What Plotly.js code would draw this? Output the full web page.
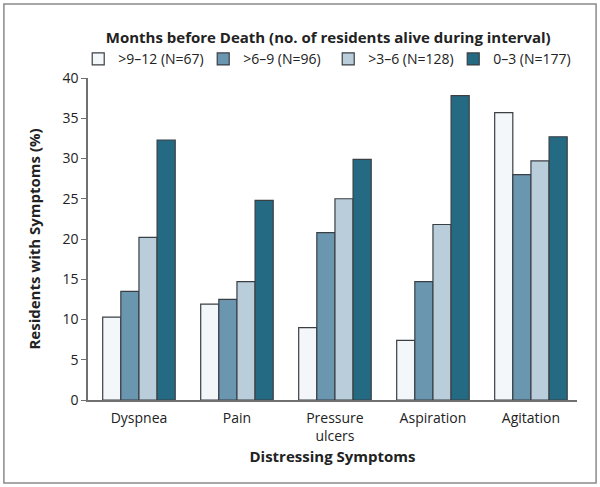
<!DOCTYPE html>
<html>
<head>
<meta charset="utf-8">
<script src="https://cdn.plot.ly/plotly-3.0.1.min.js"></script>
<style>body{margin:0;background:#fff}</style>
</head>
<body>
<div id="chart" style="width:600px;height:487px"></div>
<script>
var symptoms = ['Dyspnea', 'Pain', 'Pressure<br>ulcers', 'Aspiration', 'Agitation'];
var seriesNames = ['>9\u201312 (N=67)', '>6\u20139 (N=96)', '>3\u20136 (N=128)', '0\u20133 (N=177)'];
var m9to12 = [10.3, 11.9, 9.0, 7.4, 35.7];
var m6to9 = [13.5, 12.5, 20.8, 14.7, 28.0];
var m3to6 = [20.2, 14.7, 25.0, 21.8, 29.7];
var m0to3 = [32.3, 24.8, 29.9, 37.8, 32.7];
var colors = ['#f3f7f9', '#6a97af', '#b9cdda', '#256a83'];

var values = [m9to12, m6to9, m3to6, m0to3];
var data = values.map(function (v, i) {
  return {
    type: 'bar',
    name: seriesNames[i],
    x: symptoms,
    y: v,
    marker: {color: colors[i], line: {color: '#3a3f44', width: 1.2}},
    hoverinfo: 'y'
  };
});

var layout = {
  width: 600,
  height: 487,
  margin: {l: 88, r: 23, t: 78, b: 87, autoexpand: false},
  font: {family: 'Open Sans, sans-serif', size: 14, color: '#222'},
  barmode: 'group',
  bargap: 0.26,
  bargroupgap: 0,
  plot_bgcolor: '#fff',
  paper_bgcolor: '#fff',
  showlegend: true,
  legend: {
    orientation: 'h',
    x: -0.02, xanchor: 'left',
    y: 1.01, yanchor: 'bottom',
    traceorder: 'normal',
    font: {size: 14},
    itemwidth: 30,
    entrywidth: 80,
    entrywidthmode: 'pixels',
    title: {text: '<b>Months before Death (no. of residents alive during interval)</b>', side: 'top center', font: {size: 15}}
  },
  xaxis: {
    range: [-0.52, 4.47],
    showline: true, linecolor: '#707070', linewidth: 1.5,
    ticks: 'outside', ticklen: 4, tickcolor: 'rgba(0,0,0,0)',
    showgrid: false, zeroline: false,
    tickfont: {size: 14},
    title: {text: '<b>Distressing Symptoms</b>', font: {size: 15}, standoff: 8}
  },
  yaxis: {
    range: [0, 40],
    dtick: 5,
    showline: true, linecolor: '#707070', linewidth: 1.5,
    ticks: 'outside', ticklen: 5, tickcolor: '#707070',
    showgrid: false, zeroline: false,
    tickfont: {size: 14},
    title: {text: '<b>Residents with Symptoms (%)</b>', font: {size: 15}, standoff: 18}
  },
  shapes: [{
    type: 'rect', xref: 'paper', yref: 'paper', layer: 'below',
    x0: -0.172, x1: 1.039, y0: -0.258, y1: 1.23,
    line: {color: '#8a8a8a', width: 1.5}
  }]
};

Plotly.newPlot('chart', data, layout, {displayModeBar: false});
</script>
</body>
</html>
